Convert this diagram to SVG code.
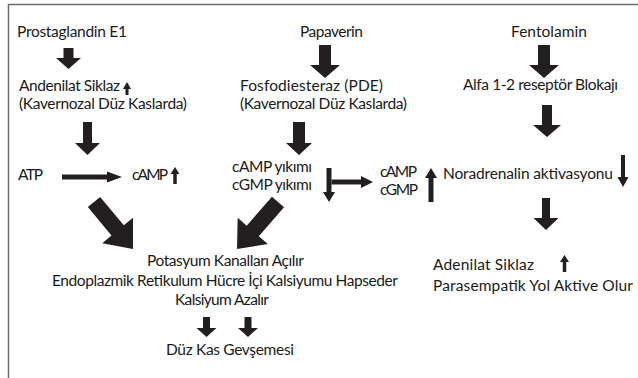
<svg xmlns="http://www.w3.org/2000/svg" width="638" height="378" viewBox="0 0 638 378">
<style>
.t{font-family:Lato,"Liberation Sans",sans-serif;font-size:15.5px;fill:#1a1a1a}
.a{fill:#231f20}
.frame{fill:none;stroke:#6d6d6d;stroke-width:1.5}
</style>
<rect x="0" y="0" width="638" height="378" fill="#ffffff"/>
<path class="frame" d="M8.5,378 V4.5 H638"/>
<g id="prostaglandin"><text class="t" x="17" y="37" textLength="110">Prostaglandin E1</text></g>
<g id="papaverin"><text class="t" x="300" y="37" textLength="63">Papaverin</text></g>
<g id="fentolamin"><text class="t" x="511" y="37" textLength="76">Fentolamin</text></g>
<g id="andenilat">
<text class="t" x="19" y="91" textLength="101">Andenilat Siklaz</text>
<polygon class="a" points="127,82 131,89 128.5,89 128.5,95 125.5,95 125.5,89 123,89"/>
<text class="t" x="19" y="109" textLength="168">(Kavernozal Düz Kaslarda)</text>
</g>
<g id="pde">
<text class="t" x="240" y="91" textLength="143">Fosfodiesteraz (PDE)</text>
<text class="t" x="240" y="109" textLength="167">(Kavernozal Düz Kaslarda)</text>
</g>
<g id="alfa"><text class="t" x="463" y="90" textLength="155">Alfa 1-2 reseptör Blokajı</text></g>
<g id="atp"><text class="t" x="18" y="179.5" textLength="25">ATP</text></g>
<g id="camp">
<text class="t" x="132" y="179.5" textLength="36">cAMP</text>
<polygon class="a" points="175,167 179.5,174 176.75,174 176.75,184 173.25,184 173.25,174 170.5,174"/>
</g>
<g id="yikim">
<text class="t" x="232" y="172" textLength="80">cAMP yıkımı</text>
<text class="t" x="232" y="190" textLength="80">cGMP yıkımı</text>
</g>
<g id="campcgmp">
<text class="t" x="380" y="176.5" textLength="37">cAMP</text>
<text class="t" x="380" y="195" textLength="38">cGMP</text>
<polygon class="a" points="431,168 437,178 433.5,178 433.5,202 428.5,202 428.5,178 425,178"/>
</g>
<g id="noradrenalin">
<text class="t" x="443" y="179" textLength="170">Noradrenalin aktivasyonu</text>
<polygon class="a" points="621,155 625,155 625,177 628.5,177 623,187 617.5,177 621,177"/>
</g>
<g id="potasyum">
<text class="t" x="147" y="266" textLength="157">Potasyum Kanalları Açılır</text>
<text class="t" x="52" y="286" textLength="346">Endoplazmik Retikulum Hücre İçi Kalsiyumu Hapseder</text>
<text class="t" x="175" y="305" textLength="94">Kalsiyum Azalır</text>
</g>
<g id="gevseme"><text class="t" x="166" y="355" textLength="128">Düz Kas Gevşemesi</text></g>
<g id="parasempatik">
<text class="t" x="433" y="270" textLength="101">Adenilat Siklaz</text>
<polygon class="a" points="564.5,255 569,262 566.25,262 566.25,272 562.75,272 562.75,262 560,262"/>
<text class="t" x="433" y="291" textLength="200">Parasempatik Yol Aktive Olur</text>
</g>
<g id="connectors">
<polygon class="a" points="63.5,48 73.5,48 73.5,58 81,58 68.5,69 56,58 63.5,58"/>
<polygon class="a" points="83,122 92,122 92,143 100,143 87.5,155 75,143 83,143"/>
<polygon class="a" points="319,45 331,45 331,65 340,65 325,78 310,65 319,65"/>
<polygon class="a" points="293,122 305,122 305,143 312,143 299,155 286,143 293,143"/>
<polygon class="a" points="538,45 550,45 550,65 559,65 544,78 529,65 538,65"/>
<polygon class="a" points="542,105 552,105 552,125 561,125 547,137 533,125 542,125"/>
<polygon class="a" points="542,198 550,198 550,218 558.5,218 546,230 533.5,218 542,218"/>
<polygon class="a" points="203,317 210,317 210,328 216.5,328 206.5,337 196.5,328 203,328"/>
<polygon class="a" points="244.5,317 251.5,317 251.5,328 258,328 248,337 238,328 244.5,328"/>
<polygon class="a" points="62,174.5 107,174.5 107,171.5 122,177 107,182.5 107,179.5 62,179.5"/>
<polygon class="a" points="326.5,168 331.5,168 331.5,192 335,192 329,202 323,192 326.5,192"/>
<polygon class="a" points="331.5,179.5 361,179.5 361,176 373,182 361,188 361,184.5 331.5,184.5"/>
<polygon class="a" transform="translate(94,202) rotate(50.3)" points="0,-8 37,-8 37,-20 61,0 37,20 37,8 0,8"/>
<polygon class="a" transform="translate(278,202) rotate(131.1)" points="0,-8 38.4,-8 38.4,-20 62.4,0 38.4,20 38.4,8 0,8"/>
</g>
</svg>
